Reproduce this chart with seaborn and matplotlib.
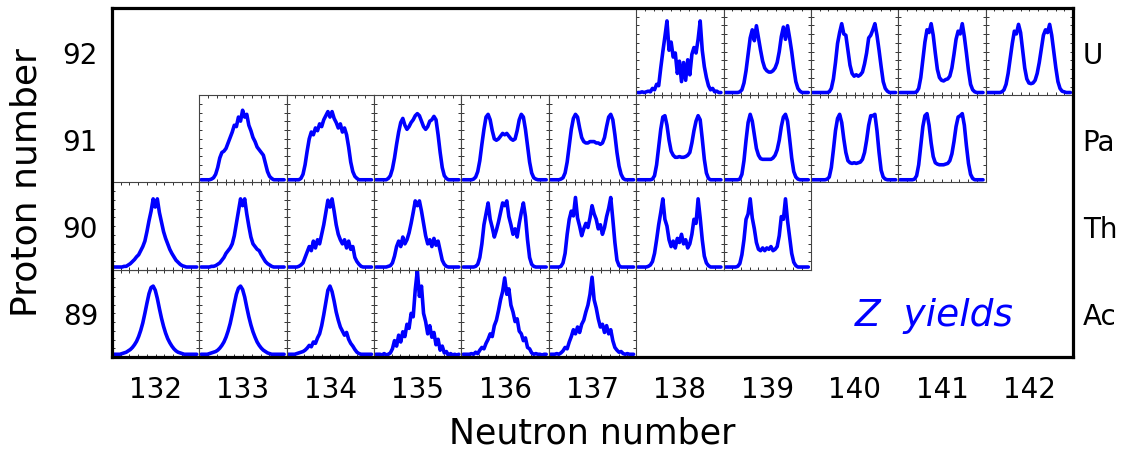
import numpy as np
import matplotlib
matplotlib.use("Agg")
import matplotlib.pyplot as plt
import seaborn as sns

# ---------------- data ----------------
neutron_numbers = list(range(132, 143))
proton_numbers = [89, 90, 91, 92]
element_symbols = ["Ac", "Th", "Pa", "U"]
fragment_z = list(range(22, 63))  # 41 fragment-charge bins per panel

# Ac (Z = 89)
ac_132 = [0,0,0,0,1,2,3,5,7,10, 14,19,26,35,46,60,75,89,98,100, 94,82,67,53,41,31,23,17,12,8, 5,3,2,1,0,0,0,0,0,0, 0]
ac_133 = [0,0,0,0,1,2,3,4,6,9, 13,18,25,34,45,59,74,88,97,100, 95,84,69,55,43,33,25,18,13,9, 6,4,2,1,0,0,0,0,0,0, 0]
ac_134 = [0,0,0,0,1,2,3,4,6,9, 13,11,18,16,24,30,42,58,76,94, 100,92,78,62,50,40,34,28,32,22, 16,12,7,3,1,0,0,0,0,0, 0]
ac_135 = [0,0,0,-1,1,-1,0,2,8,20, 12,28,18,33,26,44,38,60,55,95, 123,85,100,60,48,30,42,25,32,14, 22,6,12,2,4,-2,1,-1,0,-1, 0]
ac_136 = [0,0,0,0,1,0,3,1,6,10, 8,16,22,30,26,42,50,64,80,92, 112,88,96,72,62,48,52,34,30,20, 24,10,8,2,0,1,0,0,-1,0, 0]
ac_137 = [0,0,0,1,0,2,5,10,8,18, 26,36,30,40,32,44,50,62,72,88, 113,80,68,52,40,44,32,42,30,36, 20,10,6,3,4,1,0,1,0,0, 0]

# Th (Z = 90)
th_132 = [0,0,0,0,0,1,1,3,5,8, 11,15,18,24,30,38,52,68,82,100, 88,100,80,66,52,42,34,26,20,15, 10,7,4,2,1,0,0,0,0,0, 0]
th_133 = [0,0,0,0,0,1,1,2,4,6, 10,14,20,24,28,34,46,64,82,100, 90,100,78,60,44,34,30,26,24,18, 13,8,5,3,1,0,0,0,0,0, 0]
th_134 = [0,0,0,0,0,1,3,6,14,22, 30,24,38,28,40,34,48,62,80,98, 88,100,82,62,48,40,34,40,28,38, 26,30,14,8,4,1,0,0,0,0, 0]
th_135 = [0,0,0,0,0,0,1,2,6,16, 30,38,30,44,34,40,50,64,80,97, 90,97,82,64,46,34,40,30,42,32, 38,24,10,4,1,0,0,0,0,0, 0]
th_136 = [0,0,0,0,0,0,1,4,14,34, 62,78,94,70,58,44,54,66,80,94, 90,97,74,62,48,56,44,64,80,94, 74,40,14,4,1,0,0,0,0,0, 0]
th_137 = [0,0,0,0,0,1,6,20,48,70, 82,75,102,72,60,46,56,64,58,72, 90,78,70,56,62,48,58,74,86,102, 70,36,10,2,0,0,0,0,0,0, 0]
th_138 = [0,0,0,0,0,1,3,8,20,40, 62,80,100,70,60,40,30,38,28,42, 36,48,34,40,28,34,48,70,64,100, 72,40,16,6,2,0,0,0,0,0, 0]
th_139 = [0,0,0,0,0,0,1,5,18,40, 70,78,100,72,56,36,26,24,28,24, 28,26,30,24,26,30,46,74,70,100, 68,44,20,7,2,0,0,0,0,0, 0]

# Pa (Z = 91)
pa_133 = [0,0,0,0,0,1,3,8,18,32, 40,42,46,54,62,70,80,78,92,86, 102,92,96,80,72,62,56,48,44,40, 36,24,12,5,2,0,0,0,0,0, 0]
pa_134 = [0,0,0,0,0,0,2,8,22,42, 60,70,66,76,72,82,78,88,94,100, 92,100,90,84,76,82,70,76,66,48, 26,12,5,2,0,0,0,0,0,0, 0]
pa_135 = [0,0,0,0,0,0,2,6,16,32, 52,70,84,90,80,74,78,84,88,94, 97,94,86,78,74,78,86,88,93,88, 66,40,18,6,2,0,0,0,0,0, 0]
pa_136 = [0,0,0,0,0,1,4,12,28,52, 74,92,96,88,72,60,58,60,64,68, 66,68,64,60,58,60,72,88,96,92, 74,50,26,10,3,1,0,0,0,0, 0]
pa_137 = [0,0,0,0,0,1,3,10,26,50, 74,90,96,92,76,62,56,54,54,56, 56,56,54,54,52,54,62,78,92,96, 88,66,40,20,8,2,0,0,0,0, 0]
pa_138 = [0,0,0,0,0,0,0,1,6,22, 48,74,92,94,80,58,42,36,33,33, 34,33,33,34,36,40,54,72,86,94, 88,60,30,10,2,0,0,0,0,0, 0]
pa_139 = [0,0,0,0,0,0,0,1,8,28, 58,84,96,86,66,46,36,31,30,30, 30,30,30,32,36,44,58,78,92,96, 86,60,32,12,4,1,0,0,0,0, 0]
pa_140 = [0,0,0,0,0,0,0,1,4,18, 44,72,90,96,84,60,40,28,25,24, 25,24,25,26,30,40,58,80,94,94, 96,72,40,14,4,1,0,0,0,0, 0]
pa_141 = [0,0,0,0,0,0,0,1,6,22, 50,78,94,97,80,54,34,25,23,22, 22,22,23,24,28,38,56,78,92,94, 97,80,50,24,8,2,0,0,0,0, 0]

# U (Z = 92)
u_138 = [0,0,1,0,1,2,1,6,4,12, 10,36,60,82,105,62,74,52,58,28, 46,16,44,18,48,26,56,66,58,78, 105,62,38,22,10,4,6,1,2,0, 0]
u_139 = [0,0,0,0,0,0,0,1,4,14, 32,56,80,92,76,98,80,62,46,36, 32,30,30,32,36,44,60,82,96,78, 98,80,60,36,16,6,2,0,0,0, 0]
u_140 = [0,0,0,0,0,0,0,0,1,6, 20,44,72,88,101,86,84,62,40,28, 24,26,24,26,30,42,58,80,84,92, 101,84,62,38,16,6,2,0,0,0, 0]
u_141 = [0,0,0,0,0,0,0,0,1,6, 22,48,74,92,88,101,84,58,34,22, 18,17,19,20,24,36,56,78,90,86, 101,82,58,32,12,4,1,0,0,0, 0]
u_142 = [0,0,0,0,0,0,0,1,4,12, 28,50,72,90,86,100,88,62,36,20, 14,13,14,18,28,44,64,84,92,88, 100,84,60,36,16,6,2,1,0,0, 0]

panels = {
    (89, 132): ac_132, (89, 133): ac_133, (89, 134): ac_134,
    (89, 135): ac_135, (89, 136): ac_136, (89, 137): ac_137,
    (90, 132): th_132, (90, 133): th_133, (90, 134): th_134, (90, 135): th_135,
    (90, 136): th_136, (90, 137): th_137, (90, 138): th_138, (90, 139): th_139,
    (91, 133): pa_133, (91, 134): pa_134, (91, 135): pa_135, (91, 136): pa_136,
    (91, 137): pa_137, (91, 138): pa_138, (91, 139): pa_139, (91, 140): pa_140,
    (91, 141): pa_141,
    (92, 138): u_138, (92, 139): u_139, (92, 140): u_140, (92, 141): u_141,
    (92, 142): u_142,
}

# ---------------- style ----------------
sns.set_theme(style="white")
plt.rcParams['font.family'] = ['DejaVu Sans']
narrow = ['Liberation Sans Narrow', 'DejaVu Sans']
BLUE = '#0000ff'
W, H = 1126, 456

fig = plt.figure(figsize=(W / 100, H / 100), dpi=100)
ax = fig.add_axes([112 / W, 1 - 358 / H, 961 / W, 349 / H])
ax.set_facecolor('white')
ax.set_xlim(131.5, 142.5)
ax.set_ylim(88.5, 92.5)
ax.set_xticks(neutron_numbers)
ax.set_xticklabels([str(n) for n in neutron_numbers], fontsize=20,
                   fontfamily=narrow, color='black')
ax.set_yticks(proton_numbers)
ax.set_yticklabels([str(z) for z in proton_numbers], fontsize=20,
                   fontfamily=narrow, color='black')
ax.tick_params(axis='x', length=0, pad=13)
ax.tick_params(axis='y', length=0, pad=10)
for s in ax.spines.values():
    s.set_visible(True)
    s.set_linewidth(2.3)
    s.set_color('black')
    s.set_zorder(10)

ax2 = ax.twinx()
ax2.set_ylim(88.5, 92.5)
ax2.set_yticks(proton_numbers)
ax2.set_yticklabels(element_symbols, fontsize=20, color='black')
ax2.tick_params(axis='y', length=0, pad=7)
for s in ax2.spines.values():
    s.set_visible(False)

for (z, n), vals in panels.items():
    ins = ax.inset_axes([n - 0.5, z - 0.5, 1, 1], transform=ax.transData)
    sns.lineplot(x=fragment_z, y=vals, ax=ins, color=BLUE, linewidth=2.6)
    x0, x1 = fragment_z[0] - 0.84, fragment_z[0] + 41.26
    ins.set_xlim(x0, x1)
    ins.set_ylim(-4, 124)
    ins.set_facecolor('white')
    ins.set_xticks(np.linspace(x0, x1, 11)[1:-1])
    ins.set_yticks(np.linspace(-4, 124, 11)[1:-1])
    ins.tick_params(direction='in', length=2.5, width=0.7, colors='#333333',
                    top=True, right=True, bottom=True, left=True,
                    labelbottom=False, labelleft=False)
    ins.set_xlabel('')
    ins.set_ylabel('')
    for s in ins.spines.values():
        s.set_visible(True)
        s.set_linewidth(0.8)
        s.set_color('#444444')

fig.text(27 / W, 1 - 183 / H, 'Proton number', rotation=90, fontsize=26,
         ha='center', va='center', color='black')
fig.text(592 / W, 1 - 434 / H, 'Neutron number', fontsize=25,
         ha='center', va='center', color='black')
fig.text(934 / W, 1 - 316 / H, 'Z  yields', fontsize=27, style='italic',
         ha='center', va='center', color=BLUE)

fig.savefig('out.png', dpi=100, facecolor='white')
